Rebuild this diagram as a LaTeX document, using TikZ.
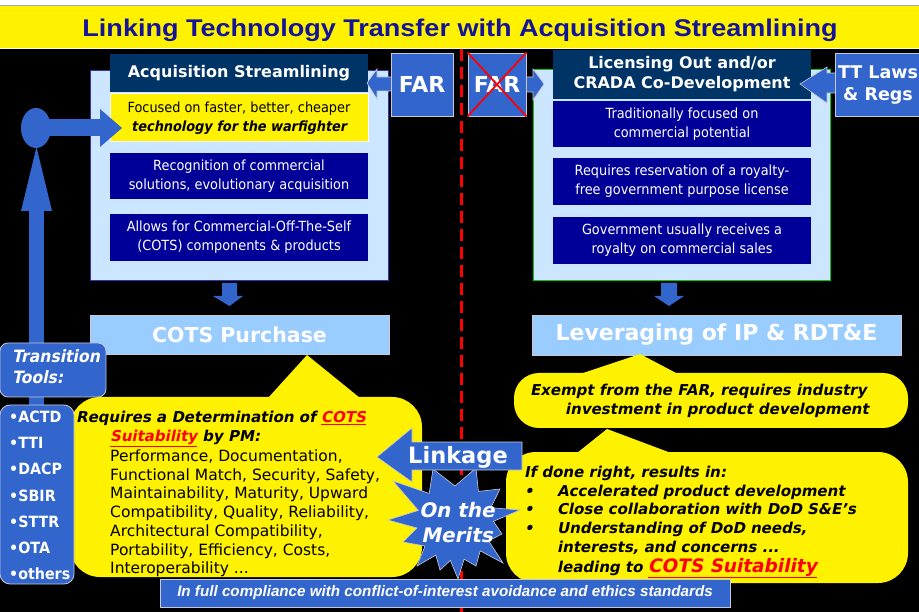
\documentclass[tikz,border=0pt]{standalone}
\usepackage{fontspec}
\usepackage{graphicx}
\usetikzlibrary{shapes.geometric}
\setmainfont{DejaVu Sans}
% Verdana-like face with slanted shapes for the italics
\newfontfamily\vfont{DejaVu Sans}[ItalicFont=*, ItalicFeatures={FakeSlant=0.2},
  BoldItalicFont=* Bold, BoldItalicFeatures={FakeSlant=0.2}]
% narrower Tahoma-like face for the box texts
\newfontfamily\tfont{DejaVu Sans}[FakeStretch=0.92, ItalicFont=*, ItalicFeatures={FakeSlant=0.2},
  BoldItalicFont=* Bold, BoldItalicFeatures={FakeSlant=0.2}]
\newfontfamily\afont{Liberation Sans}
\definecolor{ttlblue}{HTML}{14149A}
\definecolor{hdrblue}{HTML}{003366}
\definecolor{deepblue}{HTML}{000099}
\definecolor{paleblue}{HTML}{CCE6FF}
\definecolor{midblue}{HTML}{3366CC}
\definecolor{skyblue}{HTML}{99CCFF}
\definecolor{edgegray}{HTML}{C8C8D8}
\definecolor{greenedge}{HTML}{00CC00}
\definecolor{paneledge}{HTML}{3333AA}
\tikzset{
  panel/.style={rectangle, fill=paleblue, inner sep=0pt, line width=1},
  hdr/.style={rectangle, fill=hdrblue, text=white, align=center, inner sep=0pt,
    minimum width=258, font=\vfont\bfseries\fontsize{16}{20}\selectfont},
  darkbox/.style={rectangle, fill=deepblue, text=white, align=center, inner sep=0pt,
    minimum width=258, font=\tfont\fontsize{14}{19}\selectfont},
  bluebox/.style={rectangle, fill=midblue, draw=edgegray, line width=0.8, text=white, inner sep=0pt},
  bluearrow/.style={fill=midblue, draw=edgegray, line width=0.6},
  skybox/.style={rectangle, fill=skyblue, draw=edgegray, line width=0.8, text=white, inner sep=0pt,
    font=\vfont\bfseries\fontsize{20.5}{24}\selectfont},
  plaintext/.style={anchor=base west, inner sep=0pt, font=\vfont\fontsize{15.5}{18}\selectfont},
  bitext/.style={anchor=base west, inner sep=0pt, font=\vfont\bfseries\itshape\fontsize{15}{18}\selectfont},
  tooltext/.style={anchor=base west, inner sep=0pt, text=white, font=\tfont\bfseries\fontsize{15.5}{18}\selectfont},
}
\newcommand{\redul}[1]{\textcolor{red}{\underline{#1}}}
\begin{document}
\begin{tikzpicture}[x=1pt,y=-1pt]
\useasboundingbox (0,0) rectangle (919,612);
% background and title band
\fill[black] (0,48) rectangle (919,612);
\fill[white] (0,0) rectangle (919,6);
\fill[yellow] (0,6.5) rectangle (919,48);
\draw[gray!70, line width=1] (0,6) -- (919,6);
\draw[white!85!yellow, line width=0.8] (0,48) -- (919,48);
\node[anchor=base, text=ttlblue, inner sep=0pt] (title) at (460,36.7)
  {\resizebox{755pt}{17.5pt}{\afont\bfseries Linking Technology Transfer with Acquisition Streamlining}};

% dividing line
\coordinate (divtop) at (461,49);
\coordinate (divbot) at (461,612);
\draw[red, line width=3, dash pattern=on 12 off 6] (divtop) -- (divbot);

% ---------- acquisition side ----------
\node[panel, draw=paneledge, minimum width=298, minimum height=210] (lpanel) at (239,176) {};
\node[hdr, minimum height=38] (lhead) at (239,73) {Acquisition Streamlining};
\node[rectangle, fill=yellow, draw=white, line width=1, inner sep=0pt, minimum width=258, minimum height=48,
  align=center, font=\tfont\fontsize{14}{18.5}\selectfont] (lfocus) at (239,118)
  {Focused on faster, better, cheaper\\{\bfseries\itshape technology for the warfighter}};
\node[darkbox, minimum height=46] (lrecog) at (239,176) {Recognition of commercial\\solutions, evolutionary acquisition};
\node[darkbox, minimum height=47] (lallow) at (239,237.5) {Allows for Commercial-Off-The-Self\\(COTS) components \& products};

% FAR feeding the acquisition header
\filldraw[bluearrow] (367,83) -- (377,69) -- (377,77) -- (392,77) -- (392,91) -- (377,91) -- (377,99) -- cycle;
\node[bluebox, minimum width=62, minimum height=63, font=\vfont\bfseries\fontsize{22}{26}\selectfont] (farL) at (422,84.5) {FAR};

% ---------- technology transfer side ----------
\node[panel, draw=greenedge, minimum width=297, minimum height=211] (rpanel) at (681.5,175.5) {};
\node[hdr, minimum height=49] (rhead) at (682,74.5) {Licensing Out and/or\\CRADA Co-Development};
\node[darkbox, minimum height=46] (rtrad) at (682,124) {Traditionally focused on\\commercial potential};
\node[darkbox, minimum height=47] (rroy) at (682,181.5) {Requires reservation of a royalty-\\free government purpose license};
\node[darkbox, minimum height=47] (rgov) at (682,240.5) {Government usually receives a\\royalty on commercial sales};

% crossed-out FAR
\filldraw[bluearrow] (525,77) -- (533,77) -- (533,69) -- (544,84) -- (533,100) -- (533,92) -- (525,92) -- cycle;
\node[bluebox, minimum width=58, minimum height=63, font=\vfont\bfseries\fontsize{22}{26}\selectfont] (farR) at (497,84.5) {FAR};
\draw[red, line width=1.8] (farR.north west) -- (farR.south east);
\draw[red, line width=1.8] (farR.north east) -- (farR.south west);

% TT laws feeding the licensing header
\filldraw[bluearrow] (800,84) -- (827,67) -- (827,73) -- (836,73) -- (836,93) -- (827,93) -- (827,103) -- cycle;
\node[bluebox, minimum width=115, minimum height=63] (ttlaws) at (892.5,84.5) {};
\node[text=white, align=center, inner sep=0pt, font=\vfont\bfseries\fontsize{17.5}{21.5}\selectfont] (ttlabel) at (878,85) {TT Laws\\\& Regs};

% ---------- downward arrows to outcomes ----------
\fill[midblue] (222,283) -- (237,283) -- (237,296) -- (243,296) -- (229.5,306) -- (213,296) -- (222,296) -- cycle;
\fill[midblue] (661,283) -- (677,283) -- (677,296) -- (684,296) -- (669,306) -- (654,296) -- (661,296) -- cycle;
\node[skybox, minimum width=299, minimum height=39] (cots) at (239.5,334.5) {COTS Purchase};
\node[skybox, minimum width=369, minimum height=40, font=\vfont\bfseries\fontsize{22}{26}\selectfont] (lever) at (716.5,335) {Leveraging of IP \& RDT\&E};

% ---------- transition tools column ----------
\fill[midblue] (29,205) rectangle (44,410);
\fill[midblue] (21,211) -- (52,211) -- (36.5,147) -- cycle;
\node[ellipse, fill=midblue, minimum width=30, minimum height=40, inner sep=0pt] (hub) at (36,128) {};
\fill[midblue] (hub.center) ++(0,-9) rectangle (101,136);
\fill[midblue] (100,109) -- (122,128) -- (100,147) -- cycle;

% ---------- speech bubbles ----------
\fill[yellow, rounded corners=30] (70,397) rectangle (422,577);
\fill[yellow] (268,398) -- (307,355) -- (360,398) -- cycle;
\fill[yellow, rounded corners=25] (514,373) rectangle (908,428);
\fill[yellow] (580,374) -- (640,354) -- (678,374) -- cycle;
\fill[yellow, rounded corners=30] (506,452) rectangle (908,583);
\fill[yellow] (577,453) -- (607,429) -- (671,453) -- cycle;

\node[rectangle, rounded corners=8, fill=midblue, draw=edgegray, line width=0.8, minimum width=106, minimum height=54] (transbox) at (53,370) {};
\node[rectangle, rounded corners=10, fill=midblue, draw=edgegray, line width=0.8, minimum width=74, minimum height=179] (toolbox) at (37,494.5) {};
\node[anchor=base west, inner sep=0pt, text=white, font=\tfont\bfseries\itshape\fontsize{17}{20}\selectfont] (trans1) at (12,363) {Transition};
\node[anchor=base west, inner sep=0pt, text=white, font=\tfont\bfseries\itshape\fontsize{17}{20}\selectfont] (trans2) at (12,384) {Tools:};
\node[tooltext] (t1) at (9,423) {•ACTD};
\node[tooltext] (t2) at (9,449) {•TTI};
\node[tooltext] (t3) at (9,475) {•DACP};
\node[tooltext] (t4) at (9,501) {•SBIR};
\node[tooltext] (t5) at (9,527) {•STTR};
\node[tooltext] (t6) at (9,553) {•OTA};
\node[tooltext] (t7) at (9,579) {•others};

% left bubble text
\node[bitext] (req1) at (76,423) {Requires a Determination of \redul{COTS}};
\node[bitext] (req2) at (110,442) {\redul{Suitability} by PM:};
\node[plaintext] (c1) at (110,461) {Performance, Documentation,};
\node[plaintext] (c2) at (110,480) {Functional Match, Security, Safety,};
\node[plaintext] (c3) at (110,498) {Maintainability, Maturity, Upward};
\node[plaintext] (c4) at (110,517) {Compatibility, Quality, Reliability,};
\node[plaintext] (c5) at (110,536) {Architectural Compatibility,};
\node[plaintext] (c6) at (110,555) {Portability, Efficiency, Costs,};
\node[plaintext] (c7) at (110,573) {Interoperability ...};

% right bubble texts
\node[bitext] (ex1) at (530,396) {Exempt from the FAR, requires industry};
\node[bitext] (ex2) at (565,414) {investment in product development};
\node[bitext] (ok0) at (524,477) {If done right, results in:};
\node[bitext] (b1) at (524,496) {•};
\node[bitext] (b2) at (524,514) {•};
\node[bitext] (b3) at (524,533) {•};
\node[bitext] (ok1) at (557,496) {Accelerated product development};
\node[bitext] (ok2) at (557,514) {Close collaboration with DoD S\&E’s};
\node[bitext] (ok3) at (557,533) {Understanding of DoD needs,};
\node[bitext] (ok4) at (557,552) {interests, and concerns ...};
\node[bitext] (ok5) at (557,572) {leading to {\fontsize{18.5}{20}\selectfont\redul{COTS Suitability}}};

% linkage arrow and starburst
\begin{scope}[shift={(455,522)}]
\filldraw[fill=midblue, draw=edgegray, line width=0.6]
  (-62,-41) -- (-25.8,-28.6) -- (-22,-53) -- (0,-36) -- (21,-54) -- (23.4,-30.6) -- (45,-33)
  -- (35.8,-14.3) -- (65,-12) -- (38.4,-0.7) -- (47,12) -- (33.6,18.8) -- (48,41) -- (25.2,28.8)
  -- (21,44) -- (9.1,37.2) -- (3,57) -- (-4.6,38.4) -- (-15,48) -- (-19.2,33.1) -- (-38,44)
  -- (-30,24) -- (-52,20) -- (-38,6) -- (-67,-2) -- (-36.6,-11.6) -- cycle;
\end{scope}
\node[anchor=base, inner sep=0pt, text=white, font=\vfont\bfseries\itshape\fontsize{20}{24}\selectfont] (merits1) at (457,517) {On the};
\node[anchor=base, inner sep=0pt, text=white, font=\vfont\bfseries\itshape\fontsize{20}{24}\selectfont] (merits2) at (457,542) {Merits};
\filldraw[bluearrow] (377,457) -- (412,428) -- (412,442) -- (522,442) -- (522,470) -- (412,470) -- (412,482) -- cycle;
\node[inner sep=0pt, text=white, font=\vfont\bfseries\fontsize{22.5}{26}\selectfont] (linkage) at (458,457) {Linkage};

% compliance banner
\node[bluebox, minimum width=570, minimum height=28, font=\afont\bfseries\itshape\fontsize{15.2}{18}\selectfont] (ethics) at (445,593)
  {In full compliance with conflict-of-interest avoidance and ethics standards};
\end{tikzpicture}
\end{document}
